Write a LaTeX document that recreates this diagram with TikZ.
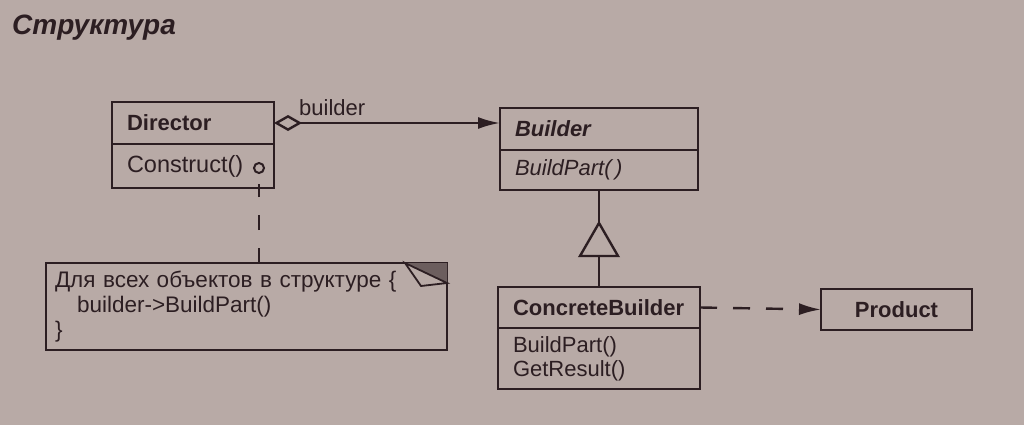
\documentclass[tikz,border=0pt]{standalone}
\usepackage{fontspec}
\setmainfont{Liberation Sans}
\usetikzlibrary{arrows.meta,positioning}
\definecolor{paper}{RGB}{184,170,166}
\definecolor{ink}{RGB}{44,30,34}
\definecolor{foldgray}{RGB}{108,94,94}

\tikzset{
  classname/.style={draw=ink, line width=2.4pt, outer sep=0pt, anchor=north west,
    inner xsep=15pt, inner ysep=0pt, align=left, text=ink,
    font=\fontsize{22}{24}\selectfont\bfseries},
  classops/.style={classname, font=\fontsize{22}{24}\selectfont},
  umlline/.style={draw=ink, line width=2.4pt},
  pindot/.style={circle, draw=ink, line width=2pt, inner sep=0pt, minimum size=10pt},
}

\begin{document}
\begin{tikzpicture}[x=1pt,y=-1pt]
\fill[paper] (0,0) rectangle (1024,425);
\useasboundingbox (0,0) rectangle (1024,425);
\node[anchor=base west, inner sep=0pt, text=ink,
  font=\fontsize{28}{28}\selectfont\bfseries\itshape] (title) at (12,35) {Структура};
%
\node[classname, text width=132pt, minimum height=42pt] (dirname) at (112,102) {Director};
\node[classops, text width=132pt, minimum height=44pt, below=0pt of dirname] (dirops)
  {\fontsize{23.5}{24}\selectfont Construct()};
\node[pindot, left=9pt of dirops.east, yshift=-2pt] (ctorpin) {};
%
\node[classname, text width=168pt, minimum height=42pt] (bname) at (500,108) {\itshape Builder};
\node[classops, text width=168pt, minimum height=40pt, below=0pt of bname] (bops) {\itshape BuildPart(\,)};
%
\node[classname, text width=172pt, minimum height=41pt] (cbname) at (498,287) {ConcreteBuilder};
\node[classops, text width=172pt, minimum height=61pt, below=0pt of cbname] (cbops) {BuildPart()\\GetResult()};
%
\node[classname, text width=121pt, minimum height=41pt, align=center] (prod) at (821,289) {Product};
%
\node[classops, text width=383pt, minimum height=87pt, inner xsep=9pt,
  font=\fontsize{22.5}{25}\selectfont] (note) at (46,263)
  {Для всех объектов в структуре \{\\\hspace*{22pt}builder->BuildPart()\\\}};
\begin{scope}[shift={(note.north east)}]
\fill[foldgray] (-42,0) -- (0,0) -- (0,20) -- cycle;
\draw[umlline, line width=1.8pt, fill=paper, line join=miter] (-42,0) -- (-26,23) -- (0,20) -- cycle;
\end{scope}
%
\draw[umlline, dash pattern=on 15pt off 18pt] (note.north -| ctorpin) -- ([yshift=-10pt]ctorpin.south);
%
\draw[umlline, {Diamond[open, length=28pt, width=16pt]}-{Latex[length=22pt, width=12pt]}]
  (dirname.east) -- node[pos=0, anchor=base west, inner sep=0pt, xshift=24pt, yshift=8pt,
  text=ink, font=\fontsize{22}{24}\selectfont] (rolelabel) {builder} (dirname.east -| bname.west);
%
\draw[umlline] (bops.south) -- ++(0,33) coordinate (genapex);
\draw[umlline, fill=paper, line join=miter] (genapex) -- ++(-19,33) -- ++(38,0) -- cycle;
\coordinate (genbase) at ([yshift=-33pt]genapex);
\draw[umlline] (genbase) -- (cbname.north);
%
\draw[umlline, dash pattern=on 17pt off 16pt, -{Latex[length=22pt, width=12pt]}] (cbname.east) -- (prod.west);
\end{tikzpicture}
\end{document}
